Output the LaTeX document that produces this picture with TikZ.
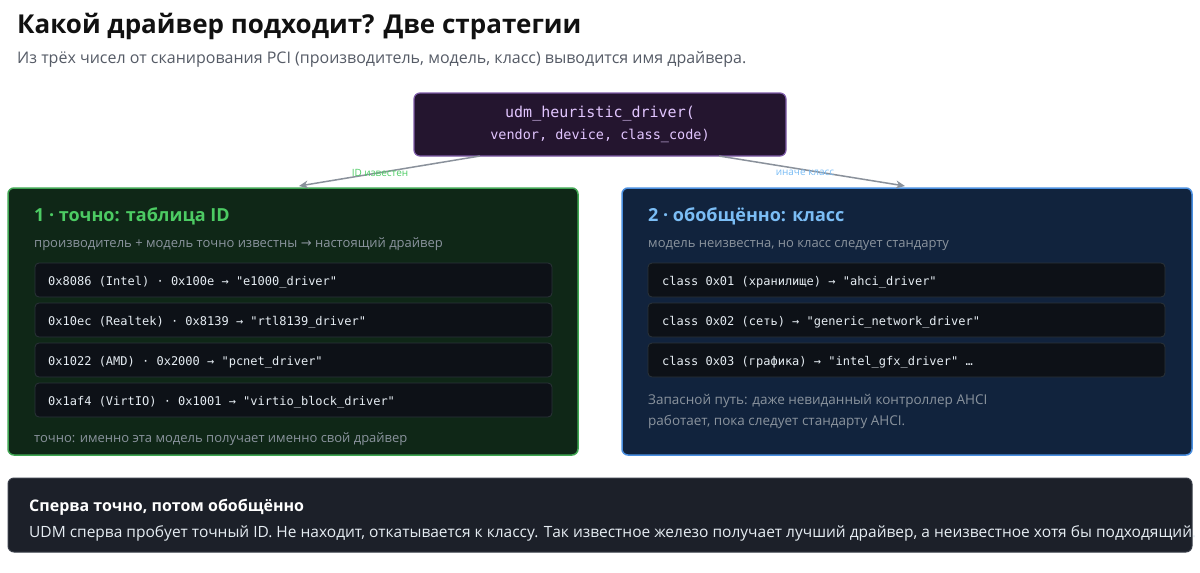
\documentclass[tikz,border=0pt]{standalone}
\usepackage{fontspec}
\setmainfont{Open Sans}
\newfontfamily\monof{DejaVu Sans Mono}
\newfontfamily\symf{DejaVu Sans}
\usetikzlibrary{arrows.meta}
\definecolor{bgc}{HTML}{FFFFFF}
\definecolor{titc}{HTML}{111111}
\definecolor{subc}{HTML}{555b66}
\definecolor{topfill}{HTML}{24152F}
\definecolor{topdraw}{HTML}{7E5BA8}
\definecolor{toptext}{HTML}{E2C6FF}
\definecolor{gfill}{HTML}{0F2717}
\definecolor{gdraw}{HTML}{3FA552}
\definecolor{gtit}{HTML}{4CCB63}
\definecolor{bfill}{HTML}{11233D}
\definecolor{bdraw}{HTML}{4A8FE0}
\definecolor{btit}{HTML}{7BBDF5}
\definecolor{rowfill}{HTML}{0D1117}
\definecolor{rowdraw}{HTML}{2B3339}
\definecolor{rowtext}{HTML}{E6EDF3}
\definecolor{muted}{HTML}{8B949E}
\definecolor{arrc}{HTML}{8A919B}
\definecolor{botfill}{HTML}{1C2029}
\definecolor{botdraw}{HTML}{3A3F4A}
\definecolor{bottext}{HTML}{E6EDF3}
\tikzset{
  panel/.style={rounded corners=6pt, line width=1.5pt},
  rowbox/.style={rounded corners=4pt, fill=rowfill, draw=rowdraw, line width=0.8pt},
  rowtxt/.style={anchor=base west, inner sep=0pt, font=\monof\fontsize{12}{14}\selectfont, text=rowtext},
  ptitle/.style={anchor=base west, inner sep=0pt, font=\bfseries\fontsize{18}{20}\selectfont},
  psub/.style={anchor=base west, inner sep=0pt, font=\fontsize{13}{15}\selectfont, text=muted},
  conn/.style={draw=arrc, line width=1.5pt, -{Stealth[length=9pt,width=8pt]}},
  elab/.style={inner sep=0pt, font=\fontsize{10}{12}\selectfont}
}
\begin{document}
\begin{tikzpicture}[x=1pt,y=-1pt]
\useasboundingbox[fill=bgc] (0,0) rectangle (1200,573);
\node[anchor=base west, inner sep=0pt, font=\bfseries\fontsize{26}{30}\selectfont, text=titc] (title) at (17,33) {Какой драйвер подходит? Две стратегии};
\node[anchor=base west, inner sep=0pt, font=\fontsize{16}{19}\selectfont, text=subc] (subtitle) at (17,63) {Из трёх чисел от сканирования PCI (производитель, модель, класс) выводится имя драйвера.};
% top box
\node[panel, fill=topfill, draw=topdraw, line width=1.2pt, minimum width=372pt, minimum height=63pt, align=center, text=toptext, font=\monof\fontsize{15}{24}\selectfont] (fn) at (600,124.5) {udm\_heuristic\_driver(\\[-2pt]{\fontsize{13.5}{16}\selectfont vendor, device, class\_code)}};
% panels
\node[panel, fill=gfill, draw=gdraw, minimum width=570pt, minimum height=267pt, inner sep=0pt] (lp) at (293,321.5) {};
\node[panel, fill=bfill, draw=bdraw, minimum width=570pt, minimum height=267pt, inner sep=0pt] (rp) at (907,321.5) {};
\coordinate (la) at (299,186);
\coordinate (ra) at (905,186);
\draw[conn] (480,156) -- (la);
\draw[conn] (719,156) -- (ra);
\node[elab, text=gtit] (l1) at (380,173) {ID известен};
\node[elab, text=btit] (l2) at (805,173) {иначе класс};
% left content
\node[ptitle, text=gtit] (lt) at (34,221) {1 · точно: таблица ID};
\node[psub] (ls) at (34,247) {производитель + модель точно известны {\symf →} настоящий драйвер};
\foreach \i/\y/\t in {1/263/{0x8086 (Intel) · 0x100e → "e1000\_driver"},
                      2/303/{0x10ec (Realtek) · 0x8139 → "rtl8139\_driver"},
                      3/343/{0x1022 (AMD) · 0x2000 → "pcnet\_driver"},
                      4/383/{0x1af4 (VirtIO) · 0x1001 → "virtio\_block\_driver"}}{
  \node[rowbox, minimum width=517pt, minimum height=34pt, inner sep=0pt] (lr\i) at (293.5,\y+17) {};
  \node[rowtxt] (lrt\i) at (48,\y+22.5) {\t};
}
\node[psub] (lf) at (34,442) {точно: именно эта модель получает именно свой драйвер};
% right content
\node[ptitle, text=btit] (rt) at (648,221) {2 · обобщённо: класс};
\node[psub] (rs) at (648,247) {модель неизвестна, но класс следует стандарту};
\foreach \i/\y/\t in {1/263/{class 0x01 (хранилище) → "ahci\_driver"},
                      2/303/{class 0x02 (сеть) → "generic\_network\_driver"},
                      3/343/{class 0x03 (графика) → "intel\_gfx\_driver" …}}{
  \node[rowbox, minimum width=517pt, minimum height=34pt, inner sep=0pt] (rr\i) at (906.5,\y+17) {};
  \node[rowtxt] (rrt\i) at (662,\y+22.5) {\t};
}
\node[psub, font=\fontsize{13.5}{15}\selectfont] (rf1) at (648,404) {Запасной путь: даже невиданный контроллер AHCI};
\node[psub, font=\fontsize{13.5}{15}\selectfont] (rf2) at (648,425) {работает, пока следует стандарту AHCI.};
% bottom
\node[panel, fill=botfill, draw=botdraw, line width=1pt, minimum width=1184pt, minimum height=74pt, inner sep=0pt] (bot) at (600,515) {};
\node[anchor=base west, inner sep=0pt, font=\bfseries\fontsize{16}{18}\selectfont, text=white] (bt) at (29,511) {Сперва точно, потом обобщённо};
\node[anchor=base west, inner sep=0pt, font=\fontsize{15.5}{18}\selectfont, text=bottext] (bx) at (29,537) {UDM сперва пробует точный ID. Не находит, откатывается к классу. Так известное железо получает лучший драйвер, а неизвестное хотя бы подходящий.};
\end{tikzpicture}
\end{document}
